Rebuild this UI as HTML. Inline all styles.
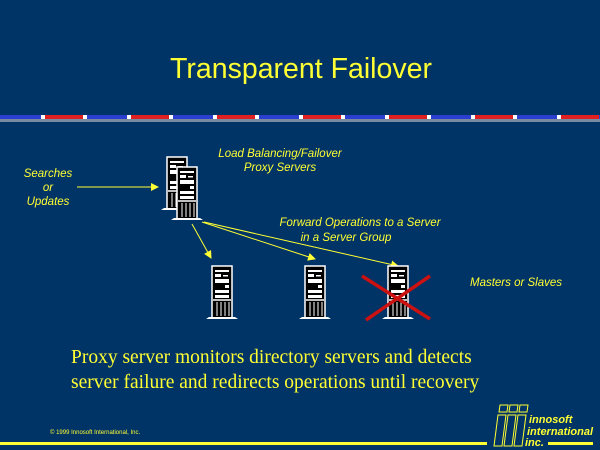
<html><body style="margin:0;background:#003366">
<svg width="600" height="450" viewBox="0 0 600 450" xmlns="http://www.w3.org/2000/svg" style="display:block">
<defs>
<g id="srv">
<rect x="-10" y="0" width="20" height="52" fill="#000" stroke="#fff" stroke-width="1.5"/>
<rect x="-7" y="4" width="14" height="2" fill="#fff"/>
<rect x="-7" y="8" width="6" height="3" fill="#fff"/><rect x="1" y="9" width="5" height="1.5" fill="#fff"/>
<rect x="-7" y="13" width="14" height="4" fill="#fff"/>
<rect x="3" y="19" width="4" height="3" fill="#fff"/>
<rect x="-7" y="24" width="14" height="3" fill="#fff"/>
<rect x="-7" y="29" width="14" height="3" fill="#fff"/>
<line x1="-9" y1="34" x2="9" y2="34" stroke="#fff" stroke-width="1.5"/>
<path d="M-5 36V50M-1 36V50M3 36V50M7 36V50" stroke="#fff" stroke-width="1"/>
<path d="M-16 53H16L13 51H-13Z" fill="#fff"/>
</g>
<marker id="ah" markerWidth="8" markerHeight="8" refX="7" refY="4" orient="auto" markerUnits="userSpaceOnUse"><path d="M0 0L8 4L0 8Z" fill="#ffff33"/></marker>
</defs>
<rect width="600" height="450" fill="#003366"/>
<text x="301" y="78" text-anchor="middle" font-family="Liberation Sans, sans-serif" font-size="28.5" fill="#ffff33">Transparent Failover</text>
<rect x="0" y="119" width="600" height="3" fill="#7a8aa0"/>
<rect x="0" y="115" width="600" height="4" fill="#2a3fd0"/>
<g fill="#e02020"><rect x="45" y="115" width="38" height="4"/><rect x="131" y="115" width="38" height="4"/><rect x="217" y="115" width="38" height="4"/><rect x="303" y="115" width="38" height="4"/><rect x="389" y="115" width="38" height="4"/><rect x="475" y="115" width="38" height="4"/><rect x="561" y="115" width="38" height="4"/></g>
<g fill="#fff"><rect x="41" y="115" width="4" height="4"/><rect x="83" y="115" width="4" height="4"/><rect x="127" y="115" width="4" height="4"/><rect x="169" y="115" width="4" height="4"/><rect x="213" y="115" width="4" height="4"/><rect x="255" y="115" width="4" height="4"/><rect x="299" y="115" width="4" height="4"/><rect x="341" y="115" width="4" height="4"/><rect x="385" y="115" width="4" height="4"/><rect x="427" y="115" width="4" height="4"/><rect x="471" y="115" width="4" height="4"/><rect x="513" y="115" width="4" height="4"/><rect x="557" y="115" width="4" height="4"/></g>
<g font-family="Liberation Sans, sans-serif" font-size="11.5" font-style="italic" fill="#ffff33" text-anchor="middle">
<text x="48" y="177">Searches</text><text x="48" y="191">or</text><text x="48" y="205">Updates</text>
<text x="280" y="157">Load Balancing/Failover</text><text x="280" y="171">Proxy Servers</text>
<text x="360" y="226">Forward Operations to a Server</text><text x="346" y="241">in a Server Group</text>
<text x="516" y="286">Masters or Slaves</text>
</g>
<g stroke="#ffff33" stroke-width="1" fill="none" marker-end="url(#ah)">
<line x1="77" y1="187" x2="158" y2="187"/>
<line x1="192" y1="224" x2="211" y2="258"/>
<line x1="202" y1="222" x2="315" y2="259"/>
<line x1="204" y1="222" x2="398" y2="266"/>
</g>
<use href="#srv" x="177" y="157"/>
<use href="#srv" x="187" y="167"/>
<use href="#srv" x="222" y="266"/>
<use href="#srv" x="315" y="266"/>
<use href="#srv" x="398" y="266"/>
<g stroke="#cc1111" stroke-width="3.5"><line x1="362" y1="276" x2="430" y2="319"/><line x1="366" y1="320" x2="430" y2="276"/></g>
<g font-family="Liberation Serif, serif" font-size="19.5" fill="#ffff33">
<text x="71" y="363">Proxy server monitors directory servers and detects</text>
<text x="71" y="388">server failure and redirects operations until recovery</text>
</g>
<text x="50" y="434" font-family="Liberation Sans, sans-serif" font-size="6" fill="#ffff33">©  1999 Innosoft International, Inc.</text>
<rect x="0" y="442" width="487" height="3" fill="#ffff33"/>
<rect x="548" y="442" width="45" height="3" fill="#ffff33"/>
<g stroke="#ffff33" stroke-width="1" fill="none">
<path d="M500 405h8l-1 7h-8z M510 405h8l-1 7h-8z M520 405h8l-1 7h-8z"/>
<path d="M498 415h8l-4 31h-8z M508 415h8l-4 31h-8z M518 415h8l-4 31h-8z"/>
</g>
<g font-family="Liberation Sans, sans-serif" font-size="11" font-weight="bold" font-style="italic" fill="#ffff33">
<text x="529" y="423">innosoft</text><text x="527" y="435">international</text><text x="525" y="446">inc.</text>
</g>
</svg>
</body></html>
